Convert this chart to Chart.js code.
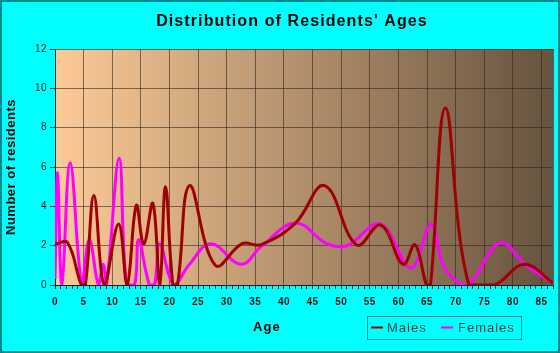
<!DOCTYPE html>
<html>
<head>
<meta charset="utf-8">
<script src="https://cdn.jsdelivr.net/npm/chart.js@4.4.1/dist/chart.umd.min.js"></script>
<style>
  html, body { margin: 0; padding: 0; background: #00ffff; }
</style>
</head>
<body>
<canvas id="ages" width="560" height="353"></canvas>
<script>
// values (age -> number of residents)
var maleAges   = [0, 2.2, 4.6, 5.3, 6.8, 8.6, 11.1, 12.6, 14.2, 15.5, 17.1, 18.3, 19.3, 20.6, 21.4, 23.5, 28, 32.7, 36, 42, 47.1, 52.7, 56.9, 60.8, 62.9, 64.9, 65.6, 68.2, 72.3, 76.8, 82, 87];
var maleCounts = [2.08, 2.15, 0, 0, 4.55, 0, 3.1, 0, 4.05, 2.08, 4.15, 0, 5.0, 0, 0, 5.05, 1.0, 2.1, 2.05, 3.15, 5.05, 2.04, 3.05, 1.05, 2.05, 0, 0, 9.0, 0, 0, 1.05, 0.1];

var femaleAges   = [0, 0.45, 1.2, 2.65, 4.7, 6, 7.6, 8.4, 9, 11.2, 12.5, 13.9, 14.6, 16.5, 17.4, 18.3, 20.8, 23.5, 27.2, 32.5, 36, 42, 47.5, 51, 56.8, 62.2, 65.7, 68, 71.8, 77.7, 82.3, 87];
var femaleCounts = [0.3, 5.7, 0, 6.2, 0, 2.3, 0, 1.05, 0, 6.45, 0, 0, 2.3, 0, 0, 2.1, 0, 1.05, 2.1, 1.05, 1.95, 3.15, 2.1, 2.0, 3.1, 0.87, 3.1, 0.9, 0, 2.14, 1.0, 0.1];

var seriesNames = ['Males', 'Females'];
var seriesColors = ['#a00000', '#ff00ff'];
var ageMax = 87;
var countMax = 12;

function toPoints(xs, ys) {
  return xs.map(function (x, i) { return { x: x, y: ys[i] }; });
}

var gridColor = 'rgba(45, 40, 35, 0.6)';

var framePlugin = {
  id: 'frame',
  beforeDraw: function (chart) {
    var ctx = chart.ctx, a = chart.chartArea;
    ctx.save();
    ctx.fillStyle = '#00ffff';
    ctx.fillRect(0, 0, chart.width, chart.height);
    ctx.strokeStyle = '#008b8b';
    ctx.lineWidth = 2;
    ctx.strokeRect(1, 1, chart.width - 2, chart.height - 2);
    var g = ctx.createLinearGradient(a.left, 0, a.right, 0);
    g.addColorStop(0, '#fdcb98');
    g.addColorStop(1, '#66523e');
    ctx.fillStyle = g;
    ctx.fillRect(a.left, a.top, a.right - a.left, a.bottom - a.top);
    ctx.restore();
    ctx.letterSpacing = '0.5px';
  },
  afterDraw: function (chart) {
    var ctx = chart.ctx;
    ctx.save();
    ctx.textBaseline = 'middle';
    ctx.textAlign = 'center';
    ctx.fillStyle = '#000';
    ctx.letterSpacing = '1.1px';
    ctx.font = 'bold 16px "Liberation Sans", Arial, sans-serif';
    ctx.fillText("Distribution of Residents' Ages", 292, 22);
    ctx.font = 'bold 13px "Liberation Sans", Arial, sans-serif';
    ctx.fillText('Age', 267, 327);

    // legend box
    ctx.strokeStyle = '#008080';
    ctx.lineWidth = 1;
    ctx.strokeRect(367.5, 316.5, 154, 23);
    ctx.font = '13px "Liberation Sans", Arial, sans-serif';
    ctx.textAlign = 'left';
    ctx.letterSpacing = '1px';
    var items = [[371, 387], [441, 458]];
    seriesNames.forEach(function (name, i) {
      ctx.strokeStyle = seriesColors[i];
      ctx.lineWidth = 2;
      ctx.beginPath();
      ctx.moveTo(items[i][0], 327.5);
      ctx.lineTo(items[i][0] + 12, 327.5);
      ctx.stroke();
      ctx.fillStyle = '#124545';
      ctx.fillText(name, items[i][1], 328);
    });
    ctx.restore();
  }
};

new Chart(document.getElementById('ages').getContext('2d'), {
  type: 'line',
  data: {
    datasets: [{
      label: seriesNames[0],
      data: toPoints(maleAges, maleCounts),
      borderColor: seriesColors[0],
      borderWidth: 3,
      pointRadius: 0,
      tension: 0.4,
      fill: false
    }, {
      label: seriesNames[1],
      data: toPoints(femaleAges, femaleCounts),
      borderColor: seriesColors[1],
      borderWidth: 3,
      pointRadius: 0,
      tension: 0.4,
      fill: false
    }]
  },
  options: {
    responsive: false,
    animation: false,
    layout: { padding: { left: 0, right: 6, top: 49, bottom: 18 } },
    plugins: {
      legend: { display: false },
      title: { display: false },
      tooltip: { enabled: false }
    },
    scales: {
      x: {
        type: 'linear',
        min: 0,
        max: ageMax,
        afterFit: function (s) { s.height = 50; },
        ticks: {
          stepSize: 1,
          autoSkip: false,
          maxRotation: 0,
          padding: 7,
          color: '#111',
          font: { family: '"Liberation Sans", Arial, sans-serif', size: 10, weight: 'bold' },
          callback: function (v) { return v % 5 === 0 ? String(v) : ''; }
        },
        grid: {
          color: function (c) {
            var v = c.tick ? c.tick.value : 0;
            return (v % 5 === 0 || v === ageMax) ? gridColor : 'rgba(0,0,0,0)';
          },
          tickColor: '#222',
          tickLength: 4
        },
        border: { color: '#222' }
      },
      y: {
        min: 0,
        max: countMax,
        afterFit: function (s) { s.width = 55; },
        ticks: {
          stepSize: 2,
          padding: 3,
          color: '#111',
          font: { family: '"Liberation Sans", Arial, sans-serif', size: 10 }
        },
        grid: { color: gridColor, tickColor: '#222', tickLength: 5 },
        border: { color: '#222' },
        title: {
          display: true,
          text: 'Number of residents',
          color: '#000',
          padding: { top: 4, bottom: 0 },
          font: { family: '"Liberation Sans", Arial, sans-serif', size: 13, weight: 'bold' }
        }
      }
    }
  },
  plugins: [framePlugin]
});
</script>
</body>
</html>
